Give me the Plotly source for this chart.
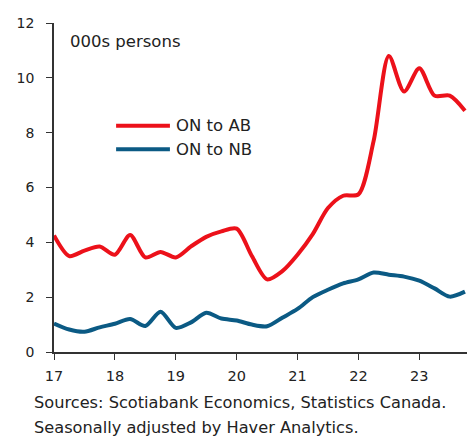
import plotly.graph_objects as go

# quarterly, 2017Q1 .. 2023Q4 (x = year - 2000)
quarters = [17 + i * 0.25 for i in range(28)]
on_to_ab = [4.25, 3.5, 3.7, 3.85, 3.55, 4.27, 3.45, 3.65, 3.45, 3.85, 4.2, 4.4,
            4.5, 3.5, 2.65, 2.95, 3.55, 4.3, 5.25, 5.7, 5.75, 7.7, 10.8, 9.5,
            10.35, 9.35, 9.35, 8.8]
on_to_nb = [1.04, 0.82, 0.74, 0.9, 1.03, 1.2, 0.95, 1.47, 0.88, 1.08, 1.43, 1.22,
            1.15, 1.0, 0.94, 1.25, 1.57, 2.0, 2.27, 2.5, 2.65, 2.9, 2.82, 2.75,
            2.6, 2.32, 2.02, 2.2]
series = [("ON to AB", on_to_ab, "#EC111A"), ("ON to NB", on_to_nb, "#0B5A84")]
sources = ["Sources: Scotiabank Economics, Statistics Canada.",
           "Seasonally adjusted by Haver Analytics."]

FONT = "DejaVu Sans"
INK = "#222222"

fig = go.Figure()
for name, vals, color in series:
    fig.add_trace(go.Scatter(
        x=quarters, y=vals, name=name, mode="lines",
        line=dict(color=color, width=4, shape="spline", smoothing=0.8),
        showlegend=False,
    ))

# hand-drawn legend (longer line samples than plotly's)
for i, (name, vals, color) in enumerate(series):
    yy = 0.688 - i * 0.072
    fig.add_shape(type="line", xref="paper", yref="paper",
                  x0=0.15, x1=0.28, y0=yy, y1=yy,
                  line=dict(color=color, width=4))
    fig.add_annotation(x=0.29, y=yy, xref="paper", yref="paper",
                       text=name, showarrow=False,
                       xanchor="left", yanchor="middle",
                       font=dict(size=16.5, color=INK, family=FONT))

fig.add_annotation(x=0.034, y=0.943, xref="paper", yref="paper",
                   text="000s persons", showarrow=False,
                   xanchor="left", yanchor="middle",
                   font=dict(size=16.5, color=INK, family=FONT))

for i, line in enumerate(sources):
    fig.add_annotation(x=-0.053, y=-0.153 - i * 0.075, xref="paper", yref="paper",
                       text=line, showarrow=False,
                       xanchor="left", yanchor="middle",
                       font=dict(size=16.2, color=INK, family=FONT))

fig.update_layout(
    width=467, height=429,
    margin=dict(l=46, r=7, t=11, b=85),
    plot_bgcolor="white", paper_bgcolor="white",
    font=dict(family=FONT, size=14, color=INK),
    xaxis=dict(range=[17, 23.8], tickvals=list(range(17, 24)),
               ticks="outside", ticklen=6, tickcolor="#333",
               showline=True, linecolor="#333", linewidth=1.5,
               showgrid=False, zeroline=False, ticklabelstandoff=4,
               tickfont=dict(size=14.5)),
    yaxis=dict(range=[0, 12], tickvals=list(range(0, 13, 2)),
               ticks="outside", ticklen=6, tickcolor="#333",
               showline=True, linecolor="#333", linewidth=1.5,
               showgrid=False, zeroline=False, ticklabelstandoff=9),
)

fig.write_html("out.html")
